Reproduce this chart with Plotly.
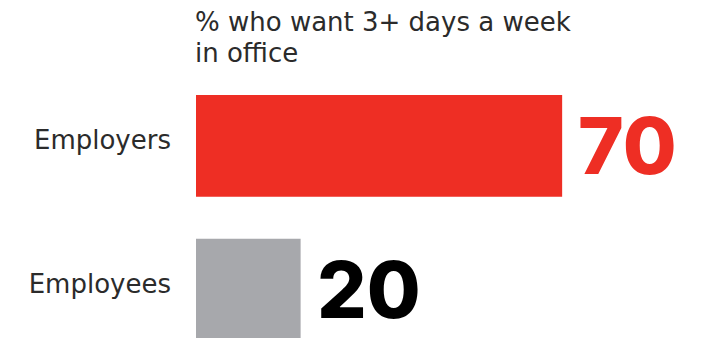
import plotly.graph_objects as go

# Survey result: share who want 3+ days a week in the office
groups = ["Employers", "Employees"]
values = [70, 20]
bar_colors = ["#EE2E24", "#A7A8AC"]
value_colors = ["#EE2E24", "#000000"]
title_lines = ["% who want 3+ days a week", "in office"]

fig = go.Figure(
    go.Bar(
        x=values,
        y=groups,
        orientation="h",
        marker=dict(color=bar_colors, line=dict(width=0)),
        width=0.708,
        hoverinfo="skip",
    )
)

# Big value labels to the right of each bar
for g, v, c in zip(groups, values, value_colors):
    fig.add_annotation(
        x=v, y=g, xref="x", yref="y",
        text=str(v), showarrow=False,
        xanchor="left", yanchor="middle", xshift=14,
        font=dict(family="Inter", size=78, color=c, weight=800),
    )

# Two-line heading above the bars
for i, line in enumerate(title_lines):
    fig.add_annotation(
        x=0, y=1, xref="paper", yref="paper",
        text=line, showarrow=False,
        xanchor="left", yanchor="top", xshift=-3, yshift=-5 - 31 * i,
        font=dict(family="DejaVu Sans", size=26, color="#2b2b2b"),
    )

fig.update_layout(
    width=706, height=338,
    margin=dict(l=196, r=0, t=0, b=0),
    paper_bgcolor="white", plot_bgcolor="white",
    showlegend=False,
    xaxis=dict(range=[0, 97.5], visible=False, fixedrange=True),
    yaxis=dict(
        type="category",
        categoryorder="array", categoryarray=groups,
        range=[1.3375, -1.015],
        showgrid=False, zeroline=False, showline=False,
        ticks="", ticklabelstandoff=24, ticklabelshift=6,
        tickfont=dict(family="DejaVu Sans", size=26, color="#2b2b2b"),
        fixedrange=True,
    ),
)

fig.write_html("out.html")
